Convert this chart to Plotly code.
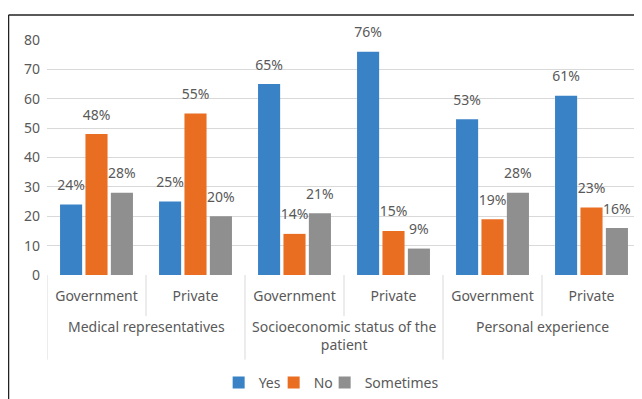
import plotly.graph_objects as go

sub_labels = ["Government", "Private", "Government", "Private", "Government", "Private"]
group_labels = ["Medical representatives", "Socioeconomic status of the<br>patient", "Personal experience"]
series_names = ["Yes", "No", "Sometimes"]
yes_vals = [24, 25, 65, 76, 53, 61]
no_vals = [48, 55, 14, 15, 19, 23]
some_vals = [28, 20, 21, 9, 28, 16]
colors = ["#3A82C6", "#E96E22", "#8F8F8F"]
legend_widths = [10, 6, 70]

TXT = "#595959"
FONT = "Noto Sans"
FS = 14
xs = list(range(len(sub_labels)))

fig = go.Figure()
for name, vals, col, lw in zip(series_names, [yes_vals, no_vals, some_vals], colors, legend_widths):
    fig.add_trace(go.Bar(x=xs, y=vals, name=name, marker=dict(color=col, line=dict(width=0)),
                         offsetgroup=name, hoverinfo="skip", legendwidth=lw))
for name, vals, col in zip(series_names, [yes_vals, no_vals, some_vals], colors):
    fig.add_trace(go.Scatter(x=xs, y=vals, mode="markers+text", text=[f"{v}%" for v in vals],
                             textposition="top center", textfont=dict(family=FONT, size=FS, color=TXT),
                             marker=dict(size=16, opacity=0), showlegend=False, hoverinfo="skip",
                             offsetgroup=name, cliponaxis=False))

# x-axis dividers (inner and outer)
shapes = []
n = len(sub_labels)
for k in range(n + 1):
    outer = (k % 2 == 0)
    shapes.append(dict(type="line", xref="x", yref="paper", x0=k - 0.5, x1=k - 0.5,
                       y0=0, y1=-0.36 if outer else -0.175, line=dict(color="#D9D9D9", width=1)))
# outer frame
shapes.append(dict(type="line", xref="paper", yref="paper", x0=-0.0648, x1=-0.0648, y0=-0.6, y1=1.106,
                   line=dict(color="#222222", width=1.5)))
shapes.append(dict(type="line", xref="paper", yref="paper", x0=-0.0648, x1=1.02, y0=1.106, y1=1.106,
                   line=dict(color="#222222", width=1.5)))

annotations = []
for g, lab in enumerate(group_labels):
    annotations.append(dict(x=(2 * g + 2 * g + 1) / 2, xref="x", y=-0.172, yref="paper", yanchor="top",
                            text=lab, showarrow=False, font=dict(family=FONT, size=FS, color=TXT)))

fig.update_layout(
    width=634, height=391,
    margin=dict(l=39, r=1, t=32, b=123),
    paper_bgcolor="white", plot_bgcolor="white",
    barmode="group", bargap=0.23, bargroupgap=0.13,
    scattermode="group", scattergap=0.23,
    font=dict(family=FONT, size=FS, color=TXT),
    xaxis=dict(tickvals=xs, ticktext=sub_labels, range=[-0.5, n - 0.5], showgrid=False,
               zeroline=False, showline=False, ticks="", ticklabelstandoff=11,
               tickfont=dict(family=FONT, size=FS, color=TXT)),
    yaxis=dict(range=[0, 80], dtick=10, showgrid=True, gridcolor="#D9D9D9", gridwidth=1,
               zeroline=False, showline=False, ticks="", ticklabelstandoff=6,
               tickfont=dict(family=FONT, size=FS, color=TXT)),
    legend=dict(orientation="h", x=0.475, xanchor="center", y=-0.453, yanchor="middle",
                font=dict(family=FONT, size=FS, color=TXT), itemwidth=30, traceorder="normal"),
    shapes=shapes, annotations=annotations,
)

fig.write_html("out.html")
